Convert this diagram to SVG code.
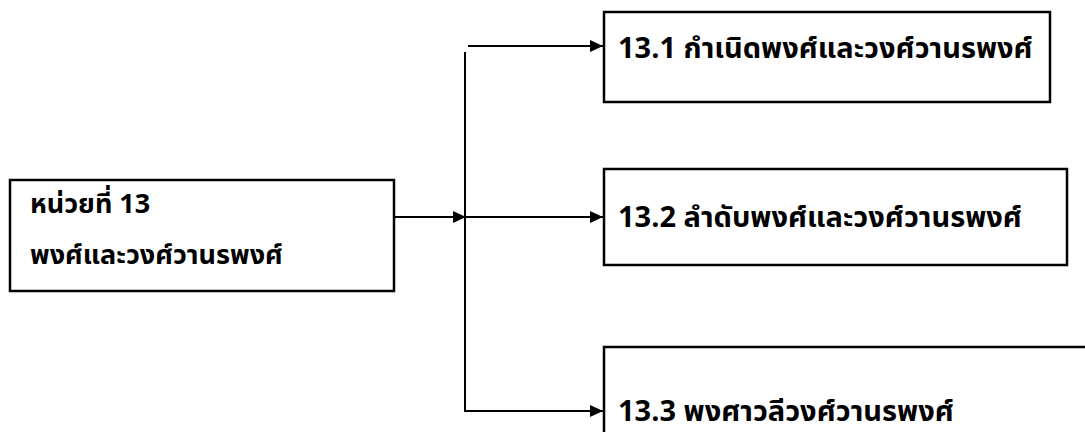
<svg xmlns="http://www.w3.org/2000/svg" width="1085" height="432" viewBox="0 0 1085 432">
<defs>
<style>
.box{fill:#fff;stroke:#000;stroke-width:2.5}
.ln{fill:none;stroke:#000;stroke-width:2}
.t{font-family:"Noto Sans Thai","Liberation Serif","Noto Sans",serif;font-size:29px;font-weight:bold;fill:#000}
.m{font-size:27px}
</style>
<marker id="ah" viewBox="0 0 13 12" refX="13" refY="6" markerWidth="13" markerHeight="12" markerUnits="userSpaceOnUse" orient="auto">
<path d="M0,0 L13,6 L0,12 Z" fill="#000"/>
</marker>
</defs>
<rect width="1085" height="432" fill="#fff"/>
<g id="connectors">
<line class="ln" x1="465" y1="52" x2="465" y2="411"/>
<line class="ln" x1="394" y1="217" x2="466" y2="217" marker-end="url(#ah)"/>
<line class="ln" x1="465" y1="217" x2="603" y2="217" marker-end="url(#ah)"/>
<line class="ln" x1="468" y1="46" x2="603" y2="46" marker-end="url(#ah)"/>
<line class="ln" x1="464" y1="411" x2="603" y2="411" marker-end="url(#ah)"/>
</g>
<g id="main">
<rect class="box" x="10" y="180" width="384" height="111"/>
<text class="t m" x="30" y="213">หน่วยที่ 13</text>
<text class="t m" x="30" y="264">พงศ์และวงศ์วานรพงศ์</text>
</g>
<g id="n1">
<rect class="box" x="604" y="12" width="446" height="90"/>
<text class="t" x="618" y="58">13.1 กำเนิดพงศ์และวงศ์วานรพงศ์</text>
</g>
<g id="n2">
<rect class="box" x="604" y="169" width="463" height="96"/>
<text class="t" x="618" y="227">13.2 ลำดับพงศ์และวงศ์วานรพงศ์</text>
</g>
<g id="n3">
<rect class="box" x="604" y="347" width="490" height="100"/>
<text class="t" x="618" y="421">13.3 พงศาวลีวงศ์วานรพงศ์</text>
</g>
</svg>
